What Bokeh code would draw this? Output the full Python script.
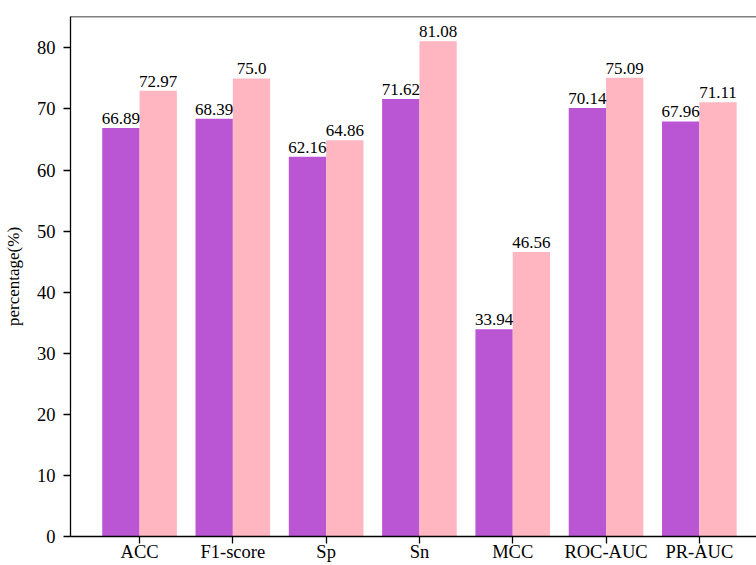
from bokeh.plotting import figure
from bokeh.models import ColumnDataSource, FixedTicker, Span
from bokeh.core.properties import value
from bokeh.embed import file_html
from bokeh.resources import INLINE

# Evaluation metrics and the scores of the two compared models (percent)
metrics = ["ACC", "F1-score", "Sp", "Sn", "MCC", "ROC-AUC", "PR-AUC"]
model_a = [66.89, 68.39, 62.16, 71.62, 33.94, 70.14, 67.96]
model_b = [72.97, 75.0, 64.86, 81.08, 46.56, 75.09, 71.11]
y_ticks = [0, 10, 20, 30, 40, 50, 60, 70, 80]

FONT = "Liberation Serif"
BAR_W = 0.4
COLOR_A = "#BA55D3"
COLOR_B = "#FFB6C1"

idx = list(range(len(metrics)))
src_a = ColumnDataSource(dict(x=[i - BAR_W / 2 for i in idx], top=model_a,
                              label=[str(v) for v in model_a]))
src_b = ColumnDataSource(dict(x=[i + BAR_W / 2 for i in idx], top=model_b,
                              label=[str(v) for v in model_b]))

y_top = max(model_a + model_b) * 1.05
x_start = -0.74
x_end = x_start + 686 / 93.3

p = figure(width=756, height=565, output_backend="svg", toolbar_location=None,
           x_range=(x_start, x_end), y_range=(0, y_top),
           min_border_left=70, min_border_right=0, min_border_top=16,
           min_border_bottom=29)
p.outline_line_color = None
p.xgrid.visible = False
p.ygrid.visible = False
p.background_fill_color = "white"
p.border_fill_color = "white"

p.vbar(x="x", top="top", width=BAR_W, source=src_a, color=COLOR_A, line_color=None)
p.vbar(x="x", top="top", width=BAR_W, source=src_b, color=COLOR_B, line_color=None)

for src in (src_a, src_b):
    p.text(x="x", y="top", text="label", source=src, text_align="center",
           text_baseline="bottom", y_offset=-4, text_font=value(FONT),
           text_font_size="17px", text_color="black")

# top border of the axes box
p.add_layout(Span(location=y_top, dimension="width", line_color="black",
                  line_width=1.3))

for ax in (p.xaxis[0], p.yaxis[0]):
    ax.axis_line_color = "black"
    ax.axis_line_width = 1.3
    ax.major_tick_line_color = "black"
    ax.major_tick_line_width = 1.3
    ax.major_tick_out = 7
    ax.major_tick_in = 0
    ax.minor_tick_line_color = None
    ax.major_label_text_font = FONT
    ax.major_label_text_font_size = "18.5px"
    ax.major_label_text_color = "black"

p.xaxis.ticker = FixedTicker(ticks=idx)
p.xaxis.major_label_overrides = {i: m for i, m in enumerate(metrics)}
p.xaxis.major_label_standoff = -2

p.yaxis.ticker = FixedTicker(ticks=y_ticks)
p.yaxis.major_label_standoff = 8
p.yaxis.axis_label = "percentage(%)"
p.yaxis.axis_label_text_font = FONT
p.yaxis.axis_label_text_font_size = "17px"
p.yaxis.axis_label_text_font_style = "normal"
p.yaxis.axis_label_text_color = "black"
p.yaxis.axis_label_standoff = 11

open("out.html", "w").write(file_html(p, INLINE))
